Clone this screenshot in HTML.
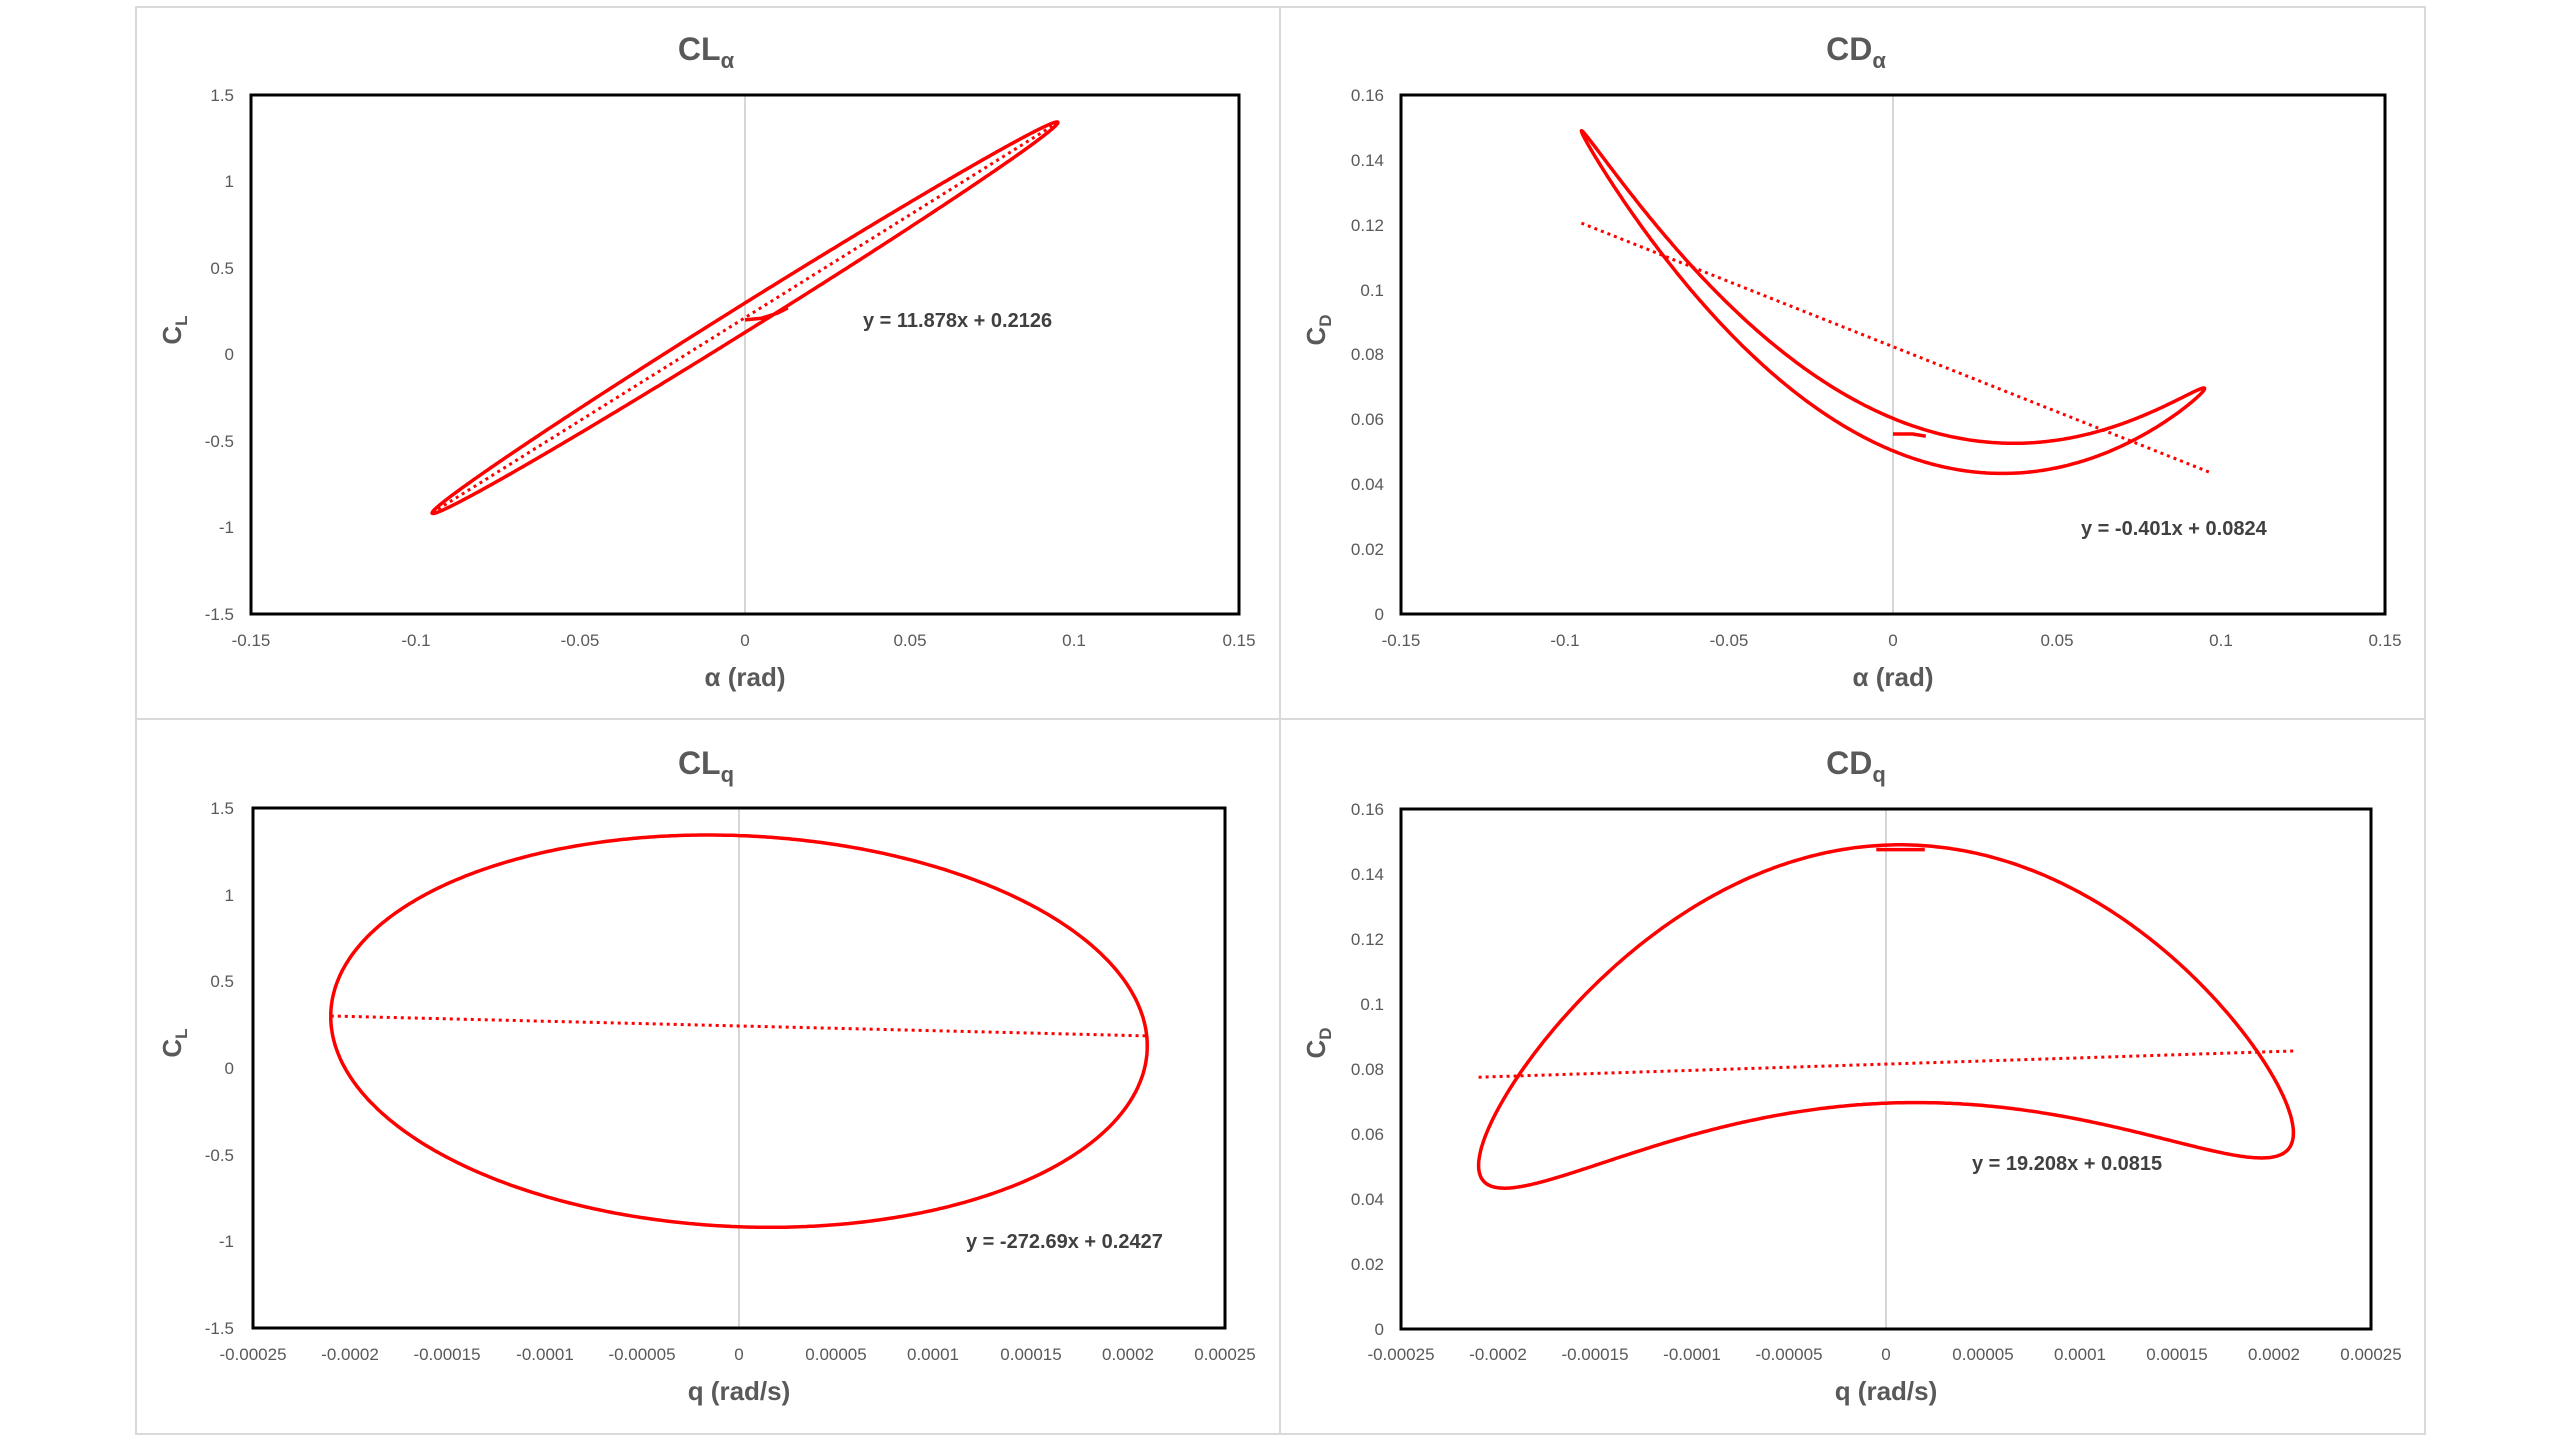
<!DOCTYPE html>
<html><head><meta charset="utf-8"><style>
body{margin:0;background:#fff;}
svg{display:block;font-family:"Liberation Sans Narrow","Liberation Sans",sans-serif;}
.t{font-size:17px;fill:#595959;}
.ti{font-size:32px;font-weight:bold;fill:#595959;}
.ax{font-size:26px;font-weight:bold;fill:#595959;}
.eq{font-size:20px;font-weight:bold;fill:#404040;}
</style></head><body>
<svg id="s" width="2560" height="1440" viewBox="0 0 2560 1440" xmlns="http://www.w3.org/2000/svg">
<rect x="136" y="7" width="2289" height="1427" fill="#fff" stroke="#d9d9d9" stroke-width="2"/>
<line x1="1280" y1="7" x2="1280" y2="1434" stroke="#d9d9d9" stroke-width="2"/>
<line x1="136" y1="719" x2="2425" y2="719" stroke="#d9d9d9" stroke-width="2"/>

<!-- Panel 1 -->
<line x1="745" y1="95" x2="745" y2="614" stroke="#c8c8c8" stroke-width="1.5"/>
<rect x="251" y="95" width="988" height="519" fill="none" stroke="#000" stroke-width="3"/>
<text class="ti" x="706" y="60" text-anchor="middle">CL<tspan font-size="22" dy="8">α</tspan></text>
<g class="t" text-anchor="end">
<text x="234" y="101">1.5</text><text x="234" y="187">1</text><text x="234" y="274">0.5</text><text x="234" y="360">0</text><text x="234" y="447">-0.5</text><text x="234" y="533">-1</text><text x="234" y="620">-1.5</text></g>
<g class="t" text-anchor="middle">
<text x="251" y="646">-0.15</text><text x="416" y="646">-0.1</text><text x="580" y="646">-0.05</text><text x="745" y="646">0</text><text x="910" y="646">0.05</text><text x="1074" y="646">0.1</text><text x="1239" y="646">0.15</text></g>
<text class="ax" x="745" y="686" text-anchor="middle">α (rad)</text>
<text class="ax" transform="translate(181,330) rotate(-90)" text-anchor="middle">C<tspan font-size="17" dy="6">L</tspan></text>
<text class="eq" x="863" y="327">y = 11.878x + 0.2126</text>

<!-- Panel 2 -->
<line x1="1893" y1="95" x2="1893" y2="614" stroke="#c8c8c8" stroke-width="1.5"/>
<rect x="1401" y="95" width="984" height="519" fill="none" stroke="#000" stroke-width="3"/>
<text class="ti" x="1856" y="60" text-anchor="middle">CD<tspan font-size="22" dy="8">α</tspan></text>
<g class="t" text-anchor="end">
<text x="1384" y="101">0.16</text><text x="1384" y="166">0.14</text><text x="1384" y="231">0.12</text><text x="1384" y="296">0.1</text><text x="1384" y="360">0.08</text><text x="1384" y="425">0.06</text><text x="1384" y="490">0.04</text><text x="1384" y="555">0.02</text><text x="1384" y="620">0</text></g>
<g class="t" text-anchor="middle">
<text x="1401" y="646">-0.15</text><text x="1565" y="646">-0.1</text><text x="1729" y="646">-0.05</text><text x="1893" y="646">0</text><text x="2057" y="646">0.05</text><text x="2221" y="646">0.1</text><text x="2385" y="646">0.15</text></g>
<text class="ax" x="1893" y="686" text-anchor="middle">α (rad)</text>
<text class="ax" transform="translate(1325,330) rotate(-90)" text-anchor="middle">C<tspan font-size="17" dy="6">D</tspan></text>
<text class="eq" x="2081" y="535">y = -0.401x + 0.0824</text>

<!-- Panel 3 -->
<line x1="739" y1="808" x2="739" y2="1328" stroke="#c8c8c8" stroke-width="1.5"/>
<rect x="253" y="808" width="972" height="520" fill="none" stroke="#000" stroke-width="3"/>
<text class="ti" x="706" y="774" text-anchor="middle">CL<tspan font-size="22" dy="8">q</tspan></text>
<g class="t" text-anchor="end">
<text x="234" y="814">1.5</text><text x="234" y="901">1</text><text x="234" y="987">0.5</text><text x="234" y="1074">0</text><text x="234" y="1161">-0.5</text><text x="234" y="1247">-1</text><text x="234" y="1334">-1.5</text></g>
<g class="t" text-anchor="middle">
<text x="253" y="1360">-0.00025</text><text x="350" y="1360">-0.0002</text><text x="447" y="1360">-0.00015</text><text x="545" y="1360">-0.0001</text><text x="642" y="1360">-0.00005</text><text x="739" y="1360">0</text><text x="836" y="1360">0.00005</text><text x="933" y="1360">0.0001</text><text x="1031" y="1360">0.00015</text><text x="1128" y="1360">0.0002</text><text x="1225" y="1360">0.00025</text></g>
<text class="ax" x="739" y="1400" text-anchor="middle">q (rad/s)</text>
<text class="ax" transform="translate(181,1043) rotate(-90)" text-anchor="middle">C<tspan font-size="17" dy="6">L</tspan></text>
<text class="eq" x="966" y="1248">y = -272.69x + 0.2427</text>

<!-- Panel 4 -->
<line x1="1886" y1="809" x2="1886" y2="1329" stroke="#c8c8c8" stroke-width="1.5"/>
<rect x="1401" y="809" width="970" height="520" fill="none" stroke="#000" stroke-width="3"/>
<text class="ti" x="1856" y="774" text-anchor="middle">CD<tspan font-size="22" dy="8">q</tspan></text>
<g class="t" text-anchor="end">
<text x="1384" y="815">0.16</text><text x="1384" y="880">0.14</text><text x="1384" y="945">0.12</text><text x="1384" y="1010">0.1</text><text x="1384" y="1075">0.08</text><text x="1384" y="1140">0.06</text><text x="1384" y="1205">0.04</text><text x="1384" y="1270">0.02</text><text x="1384" y="1335">0</text></g>
<g class="t" text-anchor="middle">
<text x="1401" y="1360">-0.00025</text><text x="1498" y="1360">-0.0002</text><text x="1595" y="1360">-0.00015</text><text x="1692" y="1360">-0.0001</text><text x="1789" y="1360">-0.00005</text><text x="1886" y="1360">0</text><text x="1983" y="1360">0.00005</text><text x="2080" y="1360">0.0001</text><text x="2177" y="1360">0.00015</text><text x="2274" y="1360">0.0002</text><text x="2371" y="1360">0.00025</text></g>
<text class="ax" x="1886" y="1400" text-anchor="middle">q (rad/s)</text>
<text class="ax" transform="translate(1325,1043) rotate(-90)" text-anchor="middle">C<tspan font-size="17" dy="6">D</tspan></text>
<text class="eq" x="1972" y="1170">y = 19.208x + 0.0815</text>
<g id="curves"></g>
</svg>
<script>
(function(){
var g=document.getElementById('curves');
function P(x0,x1,px0,px1,y0,y1,py0,py1){return function(x,y){return [px0+(x-x0)/(x1-x0)*(px1-px0), py0+(y-y0)/(y1-y0)*(py1-py0)];};}
var m1=P(-0.15,0.15,251,1239,1.5,-1.5,95,614);
var m2=P(-0.15,0.15,1401,2385,0.16,0,95,614);
var m3=P(-0.00025,0.00025,253,1225,1.5,-1.5,808,1328);
var m4=P(-0.00025,0.00025,1401,2371,0.16,0,809,1329);
function path(pts,dash){var d='M'+pts.map(function(p){return p[0].toFixed(1)+','+p[1].toFixed(1);}).join('L');
var e=document.createElementNS('http://www.w3.org/2000/svg','path');e.setAttribute('d',d);e.setAttribute('fill','none');e.setAttribute('stroke','#ff0000');
e.setAttribute('stroke-width',dash?'3':'3.5');if(dash)e.setAttribute('stroke-dasharray','3 4');e.setAttribute('stroke-linejoin','round');g.appendChild(e);}
var a1=[],a2=[],a3=[],a4=[];
for(var i=0;i<=720;i++){var th=i/720*2*Math.PI;var s=Math.sin(th),c=Math.cos(th);
var al=0.095*s,q=0.00021*c;
var cl=0.2126+11.878*al-0.085*c;
var cd=0.048+5.97*(al-0.035)*(al-0.035)+0.005*c;
a1.push(m1(al,cl));a2.push(m2(al,cd));a3.push(m3(q,cl));a4.push(m4(q,cd));}
path(a1);path(a2);path(a3);path(a4);
path([m1(0,0.2),m1(0.005,0.21),m1(0.01,0.24),m1(0.013,0.27)]);
path([m2(0,0.0555),m2(0.006,0.0555),m2(0.01,0.0548)]);
path([m4(-0.000005,0.1475),m4(0.00002,0.1475)]);
path([m1(-0.095,0.2126-11.878*0.095),m1(0.095,0.2126+11.878*0.095)],1);
path([m2(-0.095,0.0824+0.401*0.095),m2(0.097,0.0824-0.401*0.097)],1);
path([m3(-0.00021,0.2427+272.69*0.00021),m3(0.00021,0.2427-272.69*0.00021)],1);
path([m4(-0.00021,0.0815-19.208*0.00021),m4(0.00021,0.0815+19.208*0.00021)],1);
})();
</script>
</body></html>
